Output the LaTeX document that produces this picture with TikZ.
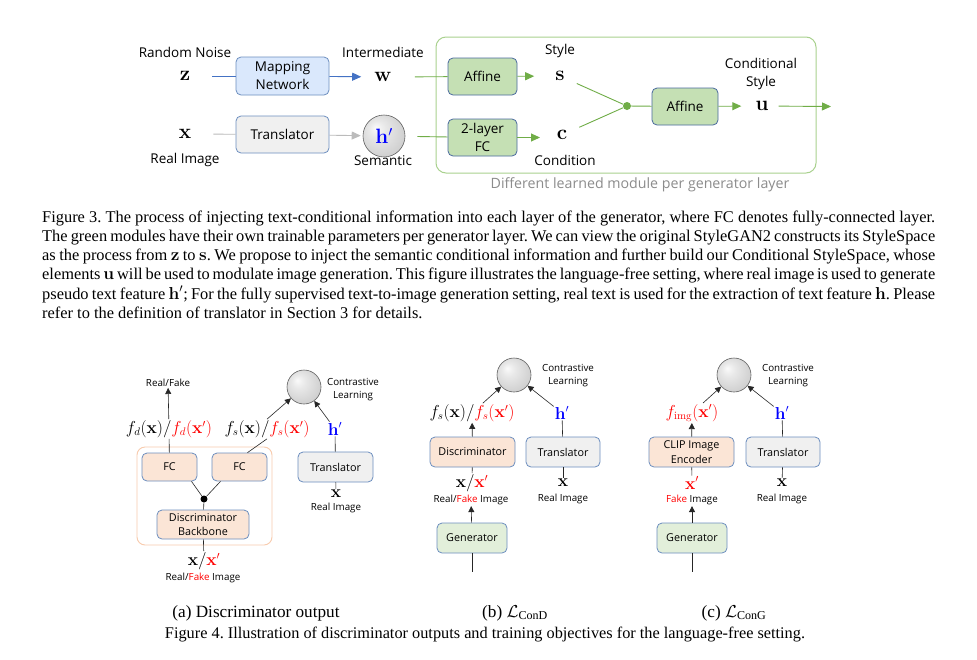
\documentclass[tikz,border=0pt]{standalone}
\usepackage[no-math]{fontspec}
\setmainfont{Liberation Serif}
\newfontfamily\dsans{Open Sans}
\usepackage{amsmath}
\usetikzlibrary{arrows.meta,shapes.geometric}
\definecolor{bluebd}{HTML}{6C8EBF}
\definecolor{bluebddark}{HTML}{4A6A9E}
\definecolor{mapfill}{HTML}{DAE8FC}
\definecolor{grayfill}{HTML}{F0F0F0}
\definecolor{greenfill}{HTML}{C5E0B4}
\definecolor{greenbd}{HTML}{A9D18E}
\definecolor{greenln}{HTML}{70AD47}
\definecolor{peach}{HTML}{FBE5D6}
\definecolor{orangebd}{HTML}{F8CBAD}
\definecolor{genfill}{HTML}{E2EFDA}
\definecolor{arrowblue}{HTML}{4472C4}
\definecolor{lgray}{HTML}{BBBBBB}
\definecolor{myred}{HTML}{FF0000}
\definecolor{myblue}{HTML}{0000FF}
\definecolor{capgray}{HTML}{8C8C8C}
\pgfdeclareradialshading{lightball}{\pgfpoint{-10bp}{10bp}}{%
  color(0bp)=(gray!4); color(10bp)=(gray!18); color(30bp)=(gray!38); color(50bp)=(gray!62)}
\tikzset{
  boxbase/.style={draw=bluebd, rounded corners=5pt, line width=0.8pt, align=center, inner sep=0pt},
  topbox/.style={boxbase, font=\dsans\fontsize{13.5}{18}\selectfont},
  panbox/.style={boxbase, font=\dsans\fontsize{10.8}{14.5}\selectfont, minimum height=30pt},
  toptext/.style={font=\dsans\fontsize{13.5}{17.5}\selectfont, inner sep=1pt, align=center},
  pantext/.style={font=\dsans\fontsize{9.8}{13}\selectfont, inner sep=1pt, align=center},
  topmath/.style={font=\fontsize{20}{22}\selectfont, inner sep=1pt},
  panmath/.style={font=\fontsize{16}{18}\selectfont, inner sep=1pt},
  ballnode/.style={circle, draw=gray!75!black, line width=0.6pt, shading=lightball, inner sep=0pt},
  garrow/.style={draw=greenln, line width=0.9pt, -{Triangle[length=9pt,width=8pt]}},
  gline/.style={draw=greenln, line width=0.9pt},
  barrow/.style={draw=arrowblue, line width=0.9pt, -{Triangle[length=9pt,width=8pt]}},
  bline/.style={draw=arrowblue, line width=0.9pt},
  grarrow/.style={draw=lgray, line width=0.9pt, -{Triangle[length=9pt,width=8pt]}},
  grline/.style={draw=lgray, line width=0.9pt},
  karrow/.style={draw=black!85, line width=0.6pt, -{Triangle[length=6pt,width=6pt]}},
  kline/.style={draw=black!85, line width=0.6pt},
}
\frenchspacing
\begin{document}
\begin{tikzpicture}[x=1pt,y=-1pt]
\useasboundingbox[fill=white] (0,0) rectangle (977,659);

% ===================== Figure 3 =====================
\node[draw=greenbd, line width=1pt, rounded corners=10pt, minimum width=380pt, minimum height=136pt, inner sep=0pt] (grp) at (626,105) {};
\node[font=\dsans\fontsize{14.2}{16}\selectfont, text=capgray, inner sep=0pt] (grpcap) at (640,185) {Different learned module per generator layer};

\node[toptext] (tnoise) at (185,52) {Random Noise};
\node[topmath] (z) at (185,76) {$\mathbf{z}$};
\node[topmath] (x0) at (185,134) {$\mathbf{x}$};
\node[toptext] (treal) at (185,160) {Real Image};

\node[topbox, fill=mapfill, minimum width=93pt, minimum height=38pt] (map) at (282.5,76) {Mapping\\Network};
\node[topbox, fill=grayfill, minimum width=93pt, minimum height=37pt] (trans0) at (282.5,134.5) {Translator};

\node[toptext] (tinter) at (383,52) {Intermediate};
\node[topmath] (w) at (383,77) {$\mathbf{w}$};
\node[ballnode, minimum size=42pt] (hball) at (384,136) {};
\node[topmath, text=myblue] (h0) at (hball) {$\mathbf{h}'$};
\node[toptext] (tsem) at (383,161) {Semantic};

\node[topbox, draw=bluebddark, fill=greenfill, minimum width=69pt, minimum height=37pt] (aff1) at (482.5,76.5) {Affine};
\node[topbox, draw=bluebddark, fill=greenfill, minimum width=69pt, minimum height=37pt] (fc2l) at (482.5,137.5) {2-layer\\FC};

\node[toptext] (tstyle) at (560,51) {Style};
\node[topmath] (s) at (560,76) {$\mathbf{s}$};
\node[topmath] (c) at (562,135) {$\mathbf{c}$};
\node[toptext] (tcond) at (565,160) {Condition};

\node[circle, fill=greenln, minimum size=8pt, inner sep=0pt] (gdot) at (627,106) {};
\node[topbox, draw=bluebddark, fill=greenfill, minimum width=66pt, minimum height=37pt] (aff2) at (685,106.5) {Affine};
\node[toptext] (tcstyle) at (761,74) {Conditional\\Style};
\node[topmath] (u) at (762,106) {$\mathbf{u}$};
\coordinate (uout) at (831,106.5);

\draw[bline, shorten <=21pt] (z) -- (map);
\draw[barrow, shorten >=12pt] (map) -- (w);
\draw[grline, shorten <=21pt] (x0) -- (trans0);
\draw[grarrow, shorten >=2pt] (trans0) -- (hball);
\draw[gline, shorten <=22pt] (w) -- (aff1);
\draw[gline, shorten <=12pt] (hball) -- (fc2l);
\draw[garrow, shorten >=20pt] (aff1) -- (s);
\draw[garrow, shorten >=20pt] (fc2l.east) -- (fc2l.east -| s);
\draw[gline, shorten <=12pt] (s) -- (gdot);
\draw[gline, shorten <=12pt] (c) -- (gdot);
\draw[gline] (gdot) -- (aff2);
\draw[garrow, shorten >=13pt] (aff2) -- (u);
\draw[garrow, shorten <=9pt] (u) -- (uout);

% caption figure 3
\node[anchor=north west, text width=893pt, align=justify, inner sep=0pt,
      font=\fontsize{16.4}{19.2}\selectfont] (cap3) at (42,210.5) {%
Figure 3.\ The process of injecting text-conditional information into each layer of the generator, where FC denotes fully-connected layer.\linebreak
The green modules have their own trainable parameters per generator layer. We can view the original StyleGAN2 constructs its StyleSpace\linebreak
as the process from $\mathbf{z}$ to $\mathbf{s}$. We propose to inject the semantic conditional information and further build our Conditional StyleSpace, whose\linebreak
elements $\mathbf{u}$ will be used to modulate image generation. This figure illustrates the language-free setting, where real image is used to generate\linebreak
pseudo text feature $\mathbf{h}'$; For the fully supervised text-to-image generation setting, real text is used for the extraction of text feature $\mathbf{h}$. Please\linebreak
refer to the definition of translator in Section 3 for details.};

% ===================== Figure 4 (a) =====================
\node[draw=orangebd, line width=0.9pt, rounded corners=8pt, minimum width=135pt, minimum height=98pt, inner sep=0pt] (grpa) at (204.5,496) {};
\node[panbox, fill=peach, minimum width=55pt, minimum height=28pt] (fca) at (169.5,467) {FC};
\node[panbox, fill=peach, minimum width=55pt, minimum height=28pt] (fcb) at (239.5,467) {FC};
\node[circle, fill=black, minimum size=7pt, inner sep=0pt] (kdot) at (204,499) {};
\node[panbox, fill=peach, minimum width=92pt, minimum height=29pt] (dback) at (203,524.5) {Discriminator\\Backbone};
\node[panmath] (xxa) at (204,561) {$\mathbf{x}/{\color{myred}\mathbf{x}'}$};
\node[pantext] (trfa) at (203,578) {Real/{\color{myred}Fake} Image};
\node[panmath] (fd) at (169,429) {$f_d(\mathbf{x})/{\color{myred}f_d(\mathbf{x}')}$};
\node[pantext] (trf) at (168,383) {Real/Fake};
\node[panmath] (fsa) at (267,429) {$f_s(\mathbf{x})/{\color{myred}f_s(\mathbf{x}')}$};
\node[ballnode, minimum size=34pt] (balla) at (304,387) {};
\node[pantext] (tcla) at (353,390) {Contrastive\\Learning};
\node[panmath, text=myblue] (ha) at (335,429) {$\mathbf{h}'$};
\node[panbox, fill=grayfill, minimum width=75pt] (transa) at (335.5,467) {Translator};
\node[panmath] (xa) at (336,494) {$\mathbf{x}$};
\node[pantext] (tra) at (336,508) {Real Image};

\draw[kline] (fca) -- (fd);
\draw[karrow] (fd) -- (trf);
\draw[kline] ([xshift=22pt]fca.south) -- (kdot);
\draw[kline] ([xshift=-19pt]fcb.south) -- (kdot);
\draw[kline] (kdot) -- (dback);
\draw[kline] (dback) -- (xxa);
\draw[kline] ([xshift=8pt]fcb.north) -- (fsa.south);
\draw[karrow] (fsa.north) -- (balla);
\draw[karrow] (ha) -- (balla);
\draw[kline] (ha) -- (transa);
\draw[kline] (transa) -- (xa);

% ===================== Figure 4 (b) =====================
\node[ballnode, minimum size=34pt] (ballb) at (514,375) {};
\node[pantext] (tclb) at (568,376) {Contrastive\\Learning};
\node[panmath] (fsb) at (472,413) {$f_s(\mathbf{x})/{\color{myred}f_s(\mathbf{x}')}$};
\node[panmath, text=myblue] (hb) at (562,413) {$\mathbf{h}'$};
\node[panbox, fill=peach, minimum width=85pt] (disb) at (472.5,452) {Discriminator};
\node[panbox, fill=grayfill, minimum width=74pt] (transb) at (563,452) {Translator};
\node[panmath] (xxb) at (472,483) {$\mathbf{x}/{\color{myred}\mathbf{x}'}$};
\node[pantext] (trfb) at (471,500) {Real/{\color{myred}Fake} Image};
\node[panbox, fill=genfill, minimum width=70pt] (genb) at (472,538) {Generator};
\coordinate (genbin) at (472,572);
\node[panmath] (xb) at (563,483) {$\mathbf{x}$};
\node[pantext] (trb) at (563,499) {Real Image};

\draw[karrow] (fsb) -- (ballb);
\draw[karrow] (hb) -- (ballb);
\draw[karrow] (disb) -- (fsb);
\draw[kline] (hb) -- (transb);
\draw[kline] (disb) -- (xxb);
\draw[karrow] (genb) -- (trfb);
\draw[kline] (genb) -- (genbin);
\draw[kline] (transb) -- (xb);

% ===================== Figure 4 (c) =====================
\node[ballnode, minimum size=34pt] (ballc) at (734,375) {};
\node[pantext] (tclc) at (788,376) {Contrastive\\Learning};
\node[panmath, text=myred] (fimg) at (692,413) {$f_{\mathrm{img}}(\mathbf{x}')$};
\node[panmath, text=myblue] (hc) at (782,413) {$\mathbf{h}'$};
\node[panbox, fill=peach, minimum width=85pt] (clip) at (691.5,452) {CLIP Image\\Encoder};
\node[panbox, fill=grayfill, minimum width=74pt] (transc) at (783,452) {Translator};
\node[panmath, text=myred] (xc) at (692,483) {$\mathbf{x}'$};
\node[pantext] (tfc) at (692,500) {{\color{myred}Fake} Image};
\node[panbox, fill=genfill, minimum width=70pt] (genc) at (692,538) {Generator};
\coordinate (gencin) at (692,572);
\node[panmath] (xc2) at (782,483) {$\mathbf{x}$};
\node[pantext] (trc) at (782,499) {Real Image};

\draw[karrow] (fimg) -- (ballc);
\draw[karrow] (hc) -- (ballc);
\draw[karrow] (clip) -- (fimg);
\draw[kline] (hc) -- (transc);
\draw[kline] (clip) -- (xc);
\draw[karrow] (genc) -- (tfc);
\draw[kline] (genc) -- (gencin);
\draw[kline] (transc) -- (xc2);

% captions figure 4
\node[anchor=base, inner sep=0pt, font=\fontsize{17.2}{19}\selectfont] (capa) at (256,617) {(a) Discriminator output};
\node[anchor=base, inner sep=0pt, font=\fontsize{17.2}{19}\selectfont] (capb) at (515,617) {(b) $\mathcal{L}_{\text{ConD}}$};
\node[anchor=base, inner sep=0pt, font=\fontsize{17.2}{19}\selectfont] (capc) at (734,617) {(c) $\mathcal{L}_{\text{ConG}}$};
\node[anchor=base, inner sep=0pt, font=\fontsize{16.3}{19}\selectfont] (cap4) at (485,638) {Figure 4.\ Illustration of discriminator outputs and training objectives for the language-free setting.};
\end{tikzpicture}
\end{document}
